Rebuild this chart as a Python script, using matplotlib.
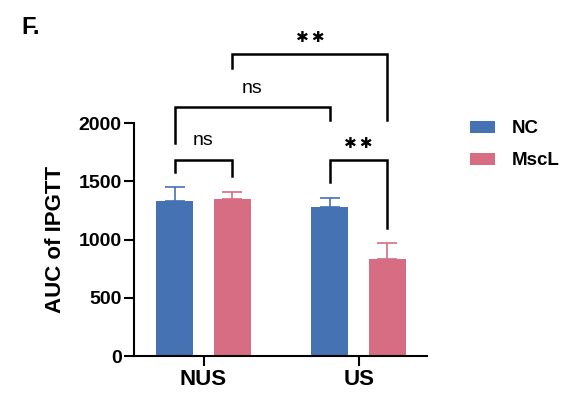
import numpy as np
import matplotlib as mpl
mpl.use("Agg")
from matplotlib import pyplot as plt

plt.rcParams['font.family'] = ['Liberation Sans', 'DejaVu Sans']

groups = ["NUS", "US"]
series = ["NC", "MscL"]
nc_mean = [1334, 1277]
nc_err = [115, 83]
mscl_mean = [1346, 831]
mscl_err = [63, 137]
colors = ["#4472b3", "#d66d83"]

# (x1, x2, bar height, left leg bottom, right leg bottom, label)
brackets = [
    (-0.186, 0.186, 1688, 1582, 1545, "ns"),
    (0.814, 1.186, 1688, 1491, 1101, "**"),
    (-0.186, 0.814, 2137, 1826, 2026, "ns"),
    (0.186, 1.186, 2598, 2470, 2026, "**"),
]

fig = plt.figure(figsize=(5.73, 3.98), dpi=100)
ax = fig.add_axes([0.234, 0.1055, 0.511, 0.585])

x = np.arange(len(groups))
w = 0.238
off = 0.186
means = [nc_mean, mscl_mean]
errs = [nc_err, mscl_err]
for i, (m, e) in enumerate(zip(means, errs)):
    xs = x + (i * 2 - 1) * off
    ax.bar(xs, m, width=w, color=colors[i], label=series[i], zorder=2)
    ax.errorbar(xs, m, yerr=[np.zeros(len(e)), e], fmt="none",
                ecolor=colors[i], elinewidth=1.2, capsize=7, capthick=1.2,
                zorder=1)

ax.set_xlim(-0.448, 1.44)
ax.set_ylim(0, 2000)
ax.set_yticks([0, 500, 1000, 1500, 2000])
ax.set_xticks(x)
ax.set_xticklabels(groups, fontsize=16, fontweight="bold")
for lab in ax.get_yticklabels():
    lab.set_fontsize(14)
    lab.set_fontweight("bold")
ax.set_ylabel("AUC of IPGTT", fontsize=16, fontweight="bold", labelpad=9)

for s in ["top", "right"]:
    ax.spines[s].set_visible(False)
for s in ["left", "bottom"]:
    ax.spines[s].set_linewidth(1.5)
ax.tick_params(width=1.5, length=7, pad=2)

for x1, x2, h, l1, l2, txt in brackets:
    ax.plot([x1, x1, x2, x2], [l1, h, h, l2], color="black", lw=1.8,
            clip_on=False, solid_joinstyle="miter")
    if txt == "ns":
        ax.text((x1 + x2) / 2, h + 90, txt, ha="center", va="bottom",
                fontsize=14)
    else:
        ax.text((x1 + x2) / 2, h + 70, "\u2731\u2009\u2731", ha="center",
                va="bottom", fontsize=11, family="DejaVu Sans")

fig.legend(loc="upper left", bbox_to_anchor=(0.791, 0.74), frameon=False,
           prop={"size": 13.5, "weight": "bold"}, handlelength=1.35,
           handleheight=0.6, handletextpad=0.85, labelspacing=0.8)

fig.text(0.038, 0.915, "F.", fontsize=17, fontweight="bold")

fig.savefig("out.png", dpi=100)
